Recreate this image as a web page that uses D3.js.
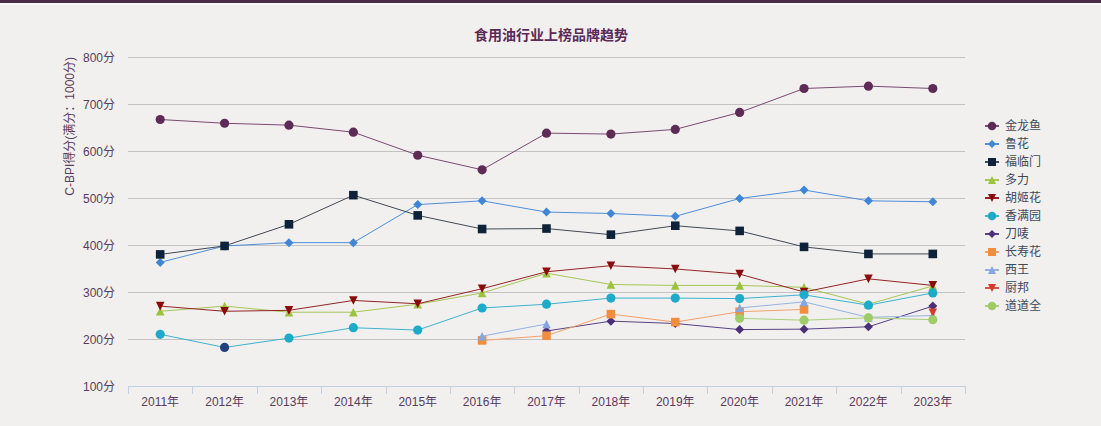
<!DOCTYPE html>
<html lang="zh">
<head>
  <meta charset="UTF-8">
  <title>食用油行业上榜品牌趋势</title>
  <script src="https://d3js.org/d3.v7.min.js"></script>
  <style>
    * { margin: 0; padding: 0; box-sizing: border-box; }
    body {
      width: 1101px;
      height: 426px;
      background: #f1f0ef;
      font-family: "Liberation Sans", Arial, "Noto Sans CJK SC", sans-serif;
      overflow: hidden;
    }
    #chart { position: relative; }
  </style>
</head>
<body>
  <div id="chart"></div>
  <script>
    // --- data ---
    const years = ["2011年", "2012年", "2013年", "2014年", "2015年", "2016年", "2017年",
                   "2018年", "2019年", "2020年", "2021年", "2022年", "2023年"];
    const yTicks = [100, 200, 300, 400, 500, 600, 700, 800];

    const jinlongyu = [667, 659, 655, 640, 591, 560, 638, 636, 646, 682, 733, 738, 733];
    const luhua     = [363, 398, 405, 405, 486, 494, 470, 467, 461, 499, 517, 494, 492];
    const fulinmen  = [380, 398, 444, 506, 463, 434, 435, 422, 441, 430, 396, 381, 381];
    const duoli     = [259, 270, 257, 257, 274, 298, 340, 316, 314, 314, 310, 274, 313];
    const hujihua   = [270, 259, 261, 282, 275, 307, 343, 356, 349, 338, 300, 328, 314];
    const xiangmanyuan = [210, 182, 202, 224, 219, 266, 274, 287, 287, 286, 294, 272, 298];
    const daomai    = [null, null, null, null, null, null, 217, 238, 233, 220, 221, 226, 270];
    const changshouhua = [null, null, null, null, null, 197, 207, 253, 236, 258, 263, null, null];
    const xiwang    = [null, null, null, null, null, 206, 232, null, null, 266, 279, 246, 250];
    const chubang   = [null, null, null, null, null, null, null, null, null, null, null, null, 256];
    const daodaoquan = [null, null, null, null, null, null, null, null, null, 244, 240, 245, 241];

    const seriesNames = ["金龙鱼", "鲁花", "福临门", "多力", "胡姬花", "香满园", "刀唛", "长寿花", "西王", "厨邦", "道道全"];
    const seriesValues = [jinlongyu, luhua, fulinmen, duoli, hujihua, xiangmanyuan, daomai, changshouhua, xiwang, chubang, daodaoquan];

    // --- styles ---
    const markerColors = ["#5e2a56", "#3f86d6", "#0e2239", "#9dc23b", "#8a0b0b", "#1eabc9",
                          "#4b2f78", "#f28d3e", "#86a6df", "#d63a2e", "#9fcb68"];
    const lineColors   = ["#7a4a72", "#4f8fdc", "#414a55", "#a6c656", "#952323", "#3db3cf",
                          "#5a4284", "#f4a26a", "#96b2e3", "#db5247", "#a9d07a"];
    const markerShapes = ["circle", "diamond", "square", "triangle", "triangle-down", "circle",
                          "diamond", "square", "triangle", "triangle-down", "circle"];
    // the 2012 香满园 point is shown in its hover colour in the reference
    const hoverPoint = { series: "香满园", year: "2012年", fill: "#22407e" };

    const W = 1101, H = 426;
    const plot = { left: 128, right: 965, top: 57, bottom: 386 };
    const textColor = "#5a3b5c";

    const svg = d3.select("#chart").append("svg")
      .attr("width", W).attr("height", H);

    // top bar
    svg.append("rect").attr("x", 0).attr("y", 0).attr("width", W).attr("height", 3).attr("fill", "#4a2b48");
    svg.append("rect").attr("x", 0).attr("y", 3).attr("width", W).attr("height", 2).attr("fill", "#faf9f9");

    const x = d3.scaleBand().domain(years).range([plot.left, plot.right]);
    const y = d3.scaleLinear().domain([100, 800]).range([plot.bottom, plot.top]);

    // title
    svg.append("text")
      .attr("x", 551).attr("y", 40)
      .attr("text-anchor", "middle")
      .style("font-size", "14px")
      .style("font-weight", "bold")
      .style("fill", "#5b2a57")
      .text("食用油行业上榜品牌趋势");

    // grid
    svg.append("g")
      .attr("transform", `translate(${plot.left},0)`)
      .call(d3.axisLeft(y).tickValues(yTicks.filter(d => d > 100)).tickSize(-(plot.right - plot.left)).tickFormat(""))
      .call(g => g.select(".domain").remove())
      .selectAll("line")
      .attr("stroke", "#c3c3c3")
      .attr("stroke-width", 1);

    // y labels
    svg.append("g")
      .attr("transform", `translate(${plot.left - 10},0)`)
      .call(d3.axisLeft(y).tickValues(yTicks).tickSize(0).tickFormat(d => d + "分"))
      .call(g => g.select(".domain").remove())
      .selectAll("text")
      .attr("dy", "0.35em")
      .style("font-size", "12px")
      .style("font-family", "\"Liberation Sans\", Arial, \"Noto Sans CJK SC\", sans-serif")
      .style("fill", textColor);

    // y title
    svg.append("text")
      .attr("transform", `translate(74,${plot.top}) rotate(-90)`)
      .attr("text-anchor", "end")
      .style("font-size", "12px")
      .style("fill", textColor)
      .text("C-BPI得分(满分：1000分)");

    // x axis
    const xAxis = svg.append("g")
      .attr("transform", `translate(0,${plot.bottom})`)
      .call(d3.axisBottom(x).tickSize(0).tickPadding(11))
      .call(g => g.select(".domain").remove());
    xAxis.selectAll("text")
      .style("font-size", "12px")
      .style("font-family", "\"Liberation Sans\", Arial, \"Noto Sans CJK SC\", sans-serif")
      .style("fill", textColor);
    xAxis.append("line")
      .attr("x1", plot.left).attr("x2", plot.right)
      .attr("y1", 0.5).attr("y2", 0.5)
      .attr("stroke", "#c0d0e0");
    xAxis.selectAll(".bound")
      .data(years.concat(["end"]))
      .enter().append("line")
      .attr("class", "bound")
      .attr("x1", (d, i) => Math.round(plot.left + i * x.step()) + 0.5)
      .attr("x2", (d, i) => Math.round(plot.left + i * x.step()) + 0.5)
      .attr("y1", 0).attr("y2", 8)
      .attr("stroke", "#c0d0e0");

    function markerPath(shape, r) {
      switch (shape) {
        case "circle":
          return d3.symbol().type(d3.symbolCircle).size(Math.PI * r * r)();
        case "square":
          return `M${-r},${-r}H${r}V${r}H${-r}Z`;
        case "diamond":
          return `M0,${-r}L${r},0L0,${r}L${-r},0Z`;
        case "triangle":
          return `M0,${-r}L${r},${r}L${-r},${r}Z`;
        case "triangle-down":
          return `M${-r},${-r}L${r},${-r}L0,${r}Z`;
      }
    }

    const line = d3.line()
      .defined(d => d.v != null)
      .x(d => x(d.year) + x.bandwidth() / 2)
      .y(d => y(d.v));

    seriesNames.forEach((name, si) => {
      const pts = years.map((year, i) => ({ year, v: seriesValues[si][i] }));
      const g = svg.append("g");
      g.append("path")
        .datum(pts)
        .attr("d", line)
        .attr("fill", "none")
        .attr("stroke", lineColors[si])
        .attr("stroke-width", 1);
      const r = markerShapes[si] === "circle" ? 4.6 : (markerShapes[si] === "diamond" ? 4.5 : 4.3);
      g.selectAll(".pt")
        .data(pts.filter(d => d.v != null))
        .enter().append("path")
        .attr("transform", d => `translate(${x(d.year) + x.bandwidth() / 2},${y(d.v)})`)
        .attr("d", markerPath(markerShapes[si], r))
        .attr("fill", d => (name === hoverPoint.series && d.year === hoverPoint.year) ? hoverPoint.fill : markerColors[si]);
    });

    // legend
    const legend = svg.append("g").attr("transform", "translate(992,126)");
    seriesNames.forEach((name, i) => {
      const row = legend.append("g").attr("transform", `translate(0,${i * 18})`);
      row.append("line")
        .attr("x1", -7).attr("x2", 7).attr("y1", 0).attr("y2", 0)
        .attr("stroke", lineColors[i]).attr("stroke-width", 2);
      const r = markerShapes[i] === "circle" ? 4.3 : 4;
      row.append("path")
        .attr("d", markerPath(markerShapes[i], r))
        .attr("fill", markerColors[i]);
      row.append("text")
        .attr("x", 13).attr("y", 0).attr("dy", "0.35em")
        .style("font-size", "12px")
        .style("fill", "#3d4a5c")
        .text(name);
    });
  </script>
</body>
</html>
